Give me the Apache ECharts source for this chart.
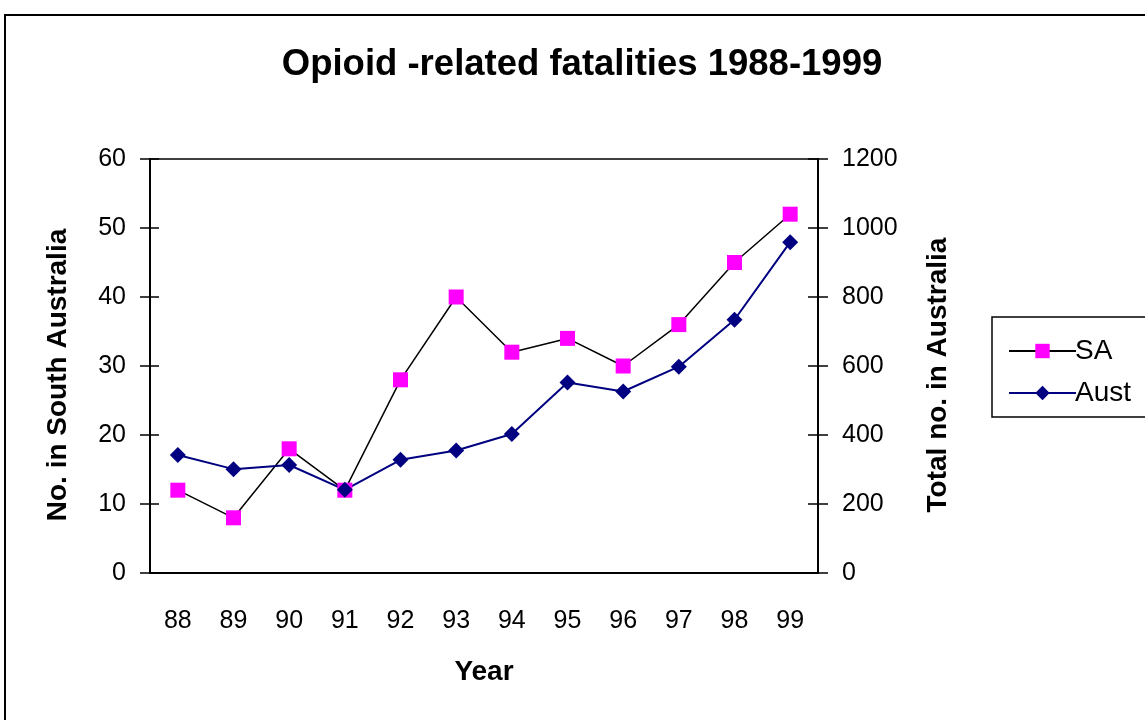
<!DOCTYPE html>
<html lang="en">
<head>
    <meta charset="UTF-8">
    <title>opioid</title>
    <script src="https://cdn.jsdelivr.net/npm/echarts@6/dist/echarts.min.js"></script>
    <style>
        html, body { margin: 0; padding: 0; background: #fff; }
        #chart { width: 1145px; height: 720px; }
    </style>
</head>
<body>
<div id="chart"></div>
<script>
    // years on the x axis
    var years = ['88', '89', '90', '91', '92', '93', '94', '95', '96', '97', '98', '99'];
    // South Australia (left axis)
    var saData = [12, 8, 18, 12, 28, 40, 32, 34, 30, 36, 45, 52];
    // whole of Australia (right axis)
    var austData = [342, 301, 313, 241, 328, 355, 403, 552, 526, 598, 734, 959];

    var FONT = '"Liberation Sans", Arial, sans-serif';
    var plain = function (v) { return String(v); };
    var lbl = {color: '#000', fontSize: 25, fontFamily: FONT, formatter: plain};
    var nameStyle = {color: '#000', fontSize: 28, fontWeight: 'bold', fontFamily: FONT};

    var chart = echarts.init(document.getElementById('chart'));
    chart.setOption({
        animation: false,
        backgroundColor: '#fff',
        title: {
            text: 'Opioid -related fatalities 1988-1999',
            left: 577, top: 41, textAlign: 'center',
            textStyle: {color: '#000', fontSize: 36.5, fontWeight: 'bold', fontFamily: FONT}
        },
        graphic: [
            // outer chart frame, runs off the page on right and bottom
            {type: 'rect', shape: {x: 5, y: 15, width: 1200, height: 760},
                style: {fill: 'none', stroke: '#000', lineWidth: 2}, silent: true},
            // legend box
            {type: 'rect', shape: {x: 992, y: 317, width: 200, height: 100},
                style: {fill: '#fff', stroke: '#000', lineWidth: 1.5}, z: 1, silent: true}
        ],
        legend: {
            orient: 'vertical',
            left: 1003, top: 332,
            itemWidth: 67, itemHeight: 18, itemGap: 14,
            textStyle: {color: '#000', fontSize: 28, fontFamily: FONT, padding: [0, 0, 0, -6]},
            data: ['SA', 'Aust'],
            z: 5
        },
        grid: {
            left: 150, right: 327, top: 159, bottom: 147,
            show: true, borderColor: '#000', borderWidth: 1.5, backgroundColor: '#fff'
        },
        xAxis: [{
            type: 'category', data: years, boundaryGap: true,
            name: 'Year', nameLocation: 'middle', nameGap: 85, nameTextStyle: nameStyle,
            axisLine: {lineStyle: {color: '#000', width: 2}},
            axisTick: {length: 10, lineStyle: {color: '#000', width: 1.5}},
            axisLabel: Object.assign({}, lbl, {margin: 36, formatter: null}),
            splitLine: {show: false}
        }, {
            // inner half of the crossing ticks
            type: 'category', data: years, boundaryGap: true, position: 'bottom',
            axisLine: {show: false},
            axisTick: {inside: true, length: 8, lineStyle: {color: '#000', width: 1.5}},
            axisLabel: {show: false}, splitLine: {show: false}
        }],
        yAxis: [{
            type: 'value', min: 0, max: 60, interval: 10, position: 'left',
            name: 'No. in South Australia', nameLocation: 'middle', nameGap: 78,
            nameTextStyle: Object.assign({padding: [0, 18, 0, 0]}, nameStyle),
            axisLine: {show: true, lineStyle: {color: '#000', width: 2}},
            axisTick: {show: true, length: 10, lineStyle: {color: '#000', width: 1.5}},
            axisLabel: Object.assign({margin: 24}, lbl),
            splitLine: {show: false}
        }, {
            type: 'value', min: 0, max: 1200, interval: 200, position: 'right',
            name: 'Total no. in Australia', nameLocation: 'middle', nameGap: 106, nameRotate: 90,
            nameTextStyle: Object.assign({padding: [0, 18, 0, 0]}, nameStyle),
            axisLine: {show: true, lineStyle: {color: '#000', width: 2}},
            axisTick: {show: true, length: 10, lineStyle: {color: '#000', width: 1.5}},
            axisLabel: Object.assign({margin: 24}, lbl),
            splitLine: {show: false}
        }, {
            type: 'value', min: 0, max: 60, interval: 10, position: 'left',
            axisLine: {show: false},
            axisTick: {show: true, inside: true, length: 9, lineStyle: {color: '#000', width: 1.5}},
            axisLabel: {show: false}, splitLine: {show: false}
        }, {
            type: 'value', min: 0, max: 1200, interval: 200, position: 'right',
            axisLine: {show: false},
            axisTick: {show: true, inside: true, length: 10, lineStyle: {color: '#000', width: 1.5}},
            axisLabel: {show: false}, splitLine: {show: false}
        }],
        series: [{
            name: 'SA', type: 'line', yAxisIndex: 0, data: saData,
            symbol: 'rect', symbolSize: 15,
            lineStyle: {color: '#000', width: 1.5},
            itemStyle: {color: '#ff00ff'}
        }, {
            name: 'Aust', type: 'line', yAxisIndex: 1, data: austData,
            symbol: 'diamond', symbolSize: 16,
            lineStyle: {color: '#000080', width: 2},
            itemStyle: {color: '#000080'}
        }]
    });
</script>
</body>
</html>
